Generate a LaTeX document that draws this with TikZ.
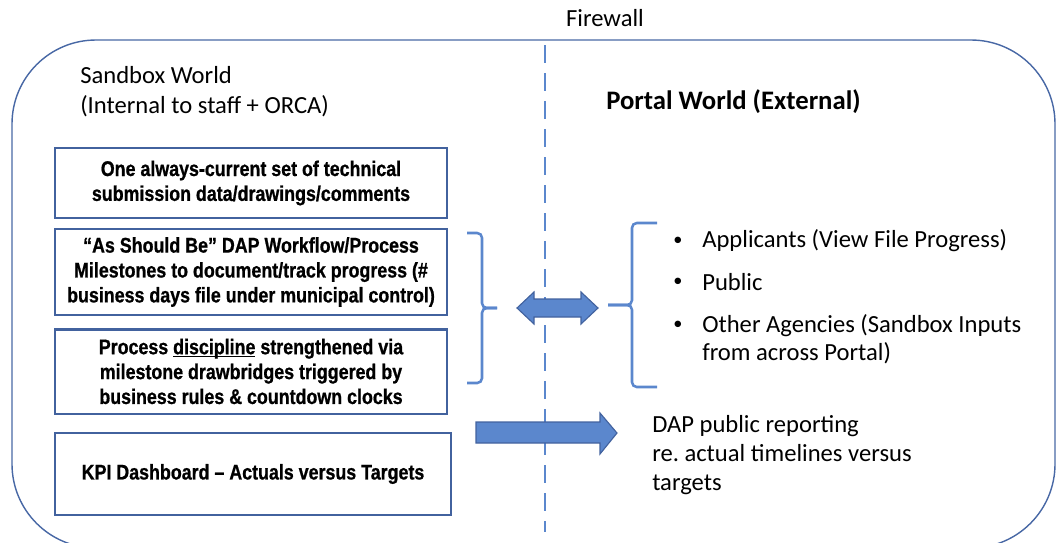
\documentclass[tikz,border=0pt]{standalone}
\usepackage{fontspec}
\setmainfont{Carlito}
\newfontfamily\narrowsans[FakeStretch=0.84, FakeBold=0.8]{Liberation Sans}
\usetikzlibrary{positioning}
\definecolor{boxblue}{RGB}{66,98,158}
\definecolor{lineblue}{RGB}{91,135,205}
\definecolor{framblue}{RGB}{72,104,165}
\newcommand\boxfont{\narrowsans\bfseries\fontsize{15.1}{17.7}\selectfont}
\newcommand\worldfont{\fontsize{17.5}{21}\selectfont}
\newcommand\ulword[1]{\underline{\smash{#1}}}
\frenchspacing

\begin{document}
\begin{tikzpicture}[x=0.025cm, y=-0.025cm, box/.style={draw=boxblue, line width=2pt, fill=white, align=center, font=\boxfont, inner sep=0pt, minimum width=9.8cm}, txt/.style={inner sep=0pt, font=\worldfont, align=left}, brace/.style={draw=lineblue, line width=1.8pt, rounded corners=0.12cm}, blockarrow/.style={draw=boxblue, line width=0.8pt, fill=lineblue}]
        \useasboundingbox (0,0) rectangle (1058,542);
        \draw[framblue, line width=1pt, rounded corners=2.1cm] (12,40) rectangle (1055,548);
        \draw[lineblue, line width=2pt, dash pattern=on 0.45cm off 0.25cm] (545,45) -- (545,532);
        \node[txt] (firewall) at (605,18) {Firewall};
        \node[txt, anchor=west] (sandbox) at (80,75) {Sandbox World};
        \node[txt, anchor=west] (internal) at (80,106) {(Internal to staff + ORCA)};
        \node[txt, anchor=west, font=\fontsize{19}{21}\selectfont\bfseries] (portal) at (606,102) {Portal World (External)};
        \node[box, minimum height=1.75cm] (data) at (251,183) {One always-current set of technical\\submission data/drawings/comments};
        \node[box, minimum height=2.15cm] (workflow) at (251,272) {“As Should Be” DAP Workflow/Process\\Milestones to document/track progress (\#\\business days file under municipal control)};
        \node[box, minimum height=2.12cm] (discipline) at (251,371.5) {Process \ulword{discipline} strengthened via\\milestone drawbridges triggered by\\business rules \& countdown clocks};
        \node[box, minimum height=2.05cm, minimum width=9.9cm] (kpi) at (253,474) {KPI Dashboard – Actuals versus Targets};
        \draw[brace] (467,233) -- (482,233) -- (482,308) -- (497,308);
        \draw[brace] (497,308) -- (482,308) -- (482,383) -- (467,383);
        \draw[brace] (657,223) -- (632,223) -- (632,305) -- (608,305);
        \draw[brace] (608,305) -- (632,305) -- (632,387) -- (657,387);
        \draw[blockarrow] (517,308) -- (534,292) -- (534,299) -- (581,299) -- (581,292) -- (598,308) -- (581,324) -- (581,317) -- (534,317) -- (534,324) -- cycle;
        \draw[blockarrow] (476,422) -- (600,422) -- (600,413) -- (617,433) -- (600,454) -- (600,443) -- (476,443) -- cycle;
        \node[txt, font=\fontsize{13}{15}\selectfont] (b1) at (678,241) {•};
        \node[txt, font=\fontsize{13}{15}\selectfont] (b2) at (678,282) {•};
        \node[txt, font=\fontsize{13}{15}\selectfont] (b3) at (678,325) {•};
        \node[txt, anchor=west] (applicants) at (702,241) {Applicants (View File Progress)};
        \node[txt, anchor=west] (public) at (702,282) {Public};
        \node[txt, anchor=north west, font=\fontsize{17.5}{20}\selectfont] (agencies) at (702,314) {Other Agencies (Sandbox Inputs\\from across Portal)};
        \node[txt, anchor=west, font=\fontsize{17.5}{20.5}\selectfont] (reporting) at (652,455) {DAP public reporting\\re. actual timelines versus\\targets};
    \end{tikzpicture}
\end{document}
